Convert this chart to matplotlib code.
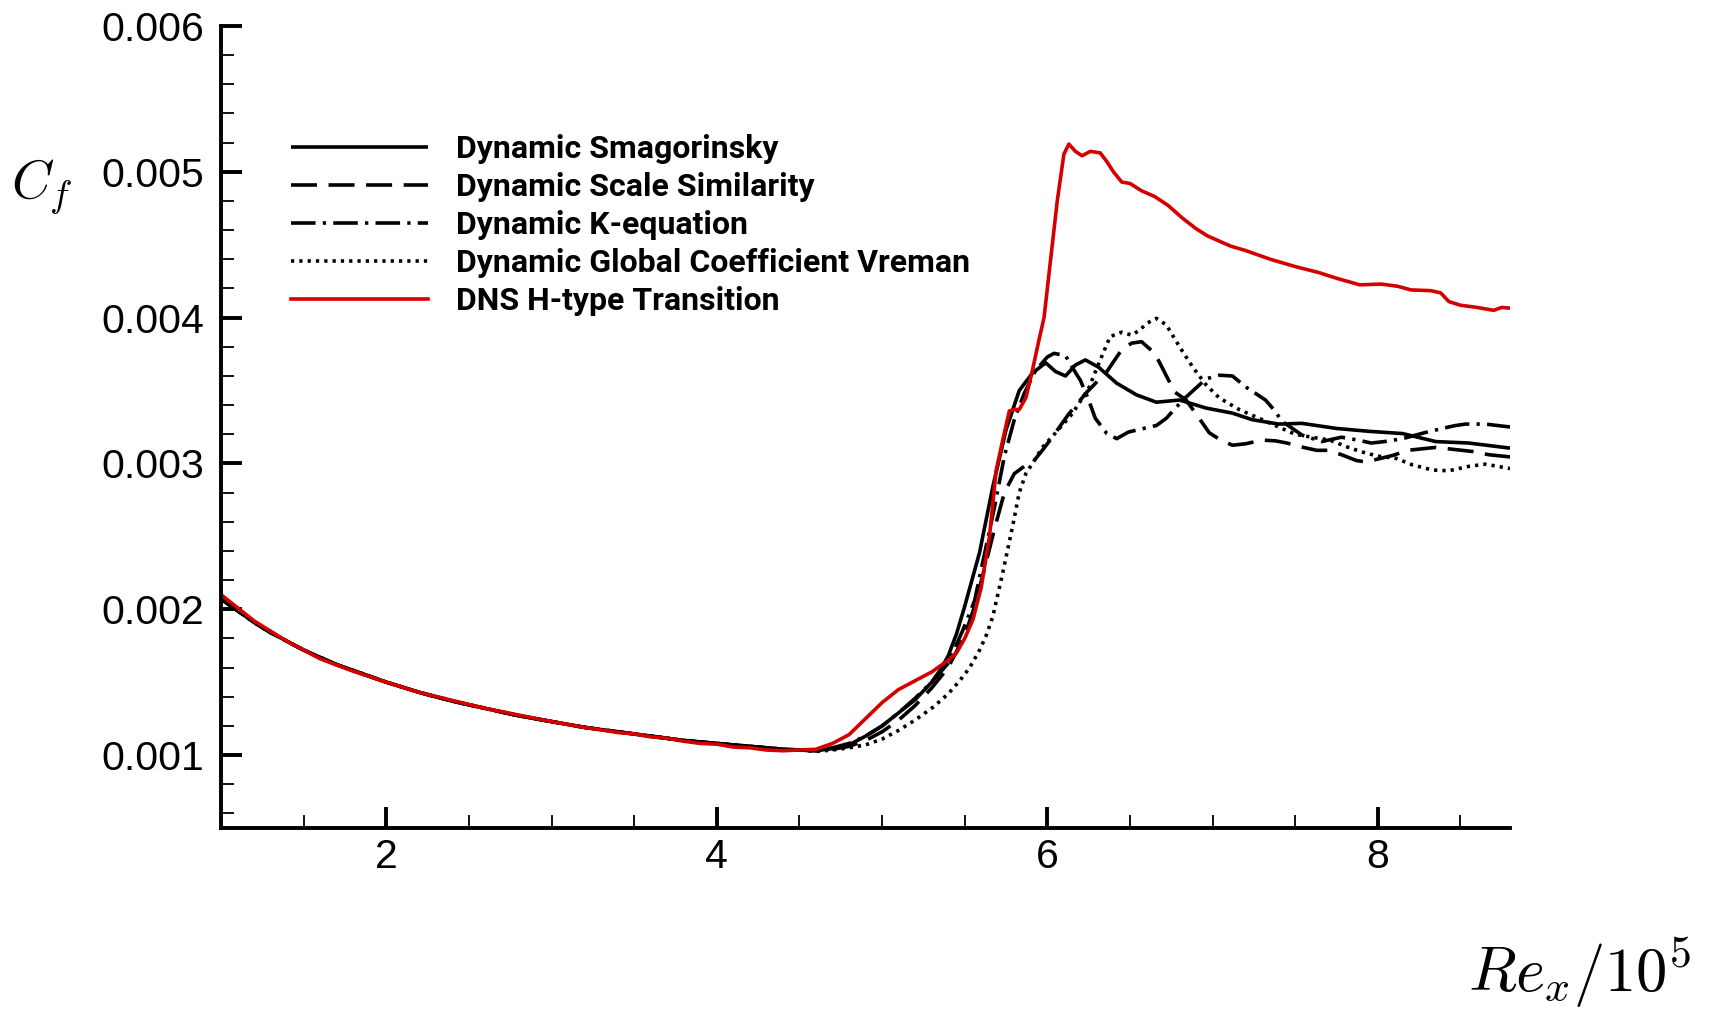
import numpy as np
import matplotlib
matplotlib.use("Agg")
import matplotlib.pyplot as plt
from matplotlib.ticker import MultipleLocator

# laminar part shared by the LES runs (Re_x / 1e5, Cf / 1e-3)
lam_x = [1.0, 1.1, 1.2, 1.3, 1.4, 1.5, 1.6, 1.7, 1.8, 1.9, 2.0, 2.2, 2.4, 2.6,
         2.8, 3.0, 3.2, 3.4, 3.6, 3.8, 4.0, 4.2, 4.4, 4.5]
lam_cf = [2.07, 1.99, 1.91, 1.84, 1.78, 1.72, 1.67, 1.62, 1.58, 1.54, 1.50, 1.43,
          1.37, 1.32, 1.27, 1.23, 1.19, 1.16, 1.13, 1.10, 1.08, 1.06, 1.04, 1.035]

# Dynamic Smagorinsky (after the laminar part)
smag_x = [4.6, 4.7, 4.8, 4.9, 5.0, 5.1, 5.2, 5.3, 5.35, 5.4, 5.45, 5.5, 5.59, 5.67,
          5.75, 5.83, 5.91, 5.99, 6.05, 6.11, 6.17, 6.23, 6.31, 6.42, 6.54, 6.66,
          6.80, 6.96, 7.12, 7.24, 7.40, 7.54, 7.75, 7.95, 8.15, 8.35, 8.55, 8.80]
smag_cf = [1.03, 1.045, 1.07, 1.13, 1.20, 1.29, 1.38, 1.50, 1.58, 1.68, 1.83, 2.02,
           2.39, 2.84, 3.23, 3.50, 3.62, 3.69, 3.63, 3.60, 3.675, 3.71, 3.66, 3.55,
           3.47, 3.42, 3.435, 3.38, 3.345, 3.30, 3.27, 3.275, 3.24, 3.22, 3.205,
           3.15, 3.14, 3.105]

# Dynamic Scale Similarity
ss_x = [4.6, 4.7, 4.8, 4.9, 5.0, 5.1, 5.2, 5.3, 5.4, 5.5, 5.56, 5.62, 5.68, 5.74,
        5.80, 5.86, 5.92, 5.97, 6.03, 6.13, 6.24, 6.36, 6.45, 6.51, 6.57, 6.65,
        6.68, 6.77, 6.84, 6.94, 6.98, 7.05, 7.12, 7.20, 7.30, 7.38, 7.45, 7.55,
        7.63, 7.70, 7.78, 7.87, 7.93, 8.0, 8.09, 8.18, 8.35, 8.43, 8.59, 8.67, 8.80]
ss_cf = [1.03, 1.04, 1.06, 1.10, 1.16, 1.24, 1.34, 1.46, 1.60, 1.82, 2.02, 2.28,
         2.55, 2.80, 2.93, 2.98, 3.02, 3.09, 3.18, 3.34, 3.49, 3.63, 3.78, 3.825,
         3.835, 3.755, 3.69, 3.49, 3.435, 3.275, 3.21, 3.16, 3.125, 3.135, 3.16,
         3.155, 3.14, 3.11, 3.09, 3.09, 3.06, 3.02, 3.01, 3.03, 3.055, 3.09, 3.11,
         3.10, 3.08, 3.06, 3.045]

# Dynamic K-equation
keq_x = [4.6, 4.7, 4.8, 4.9, 5.0, 5.1, 5.2, 5.3, 5.4, 5.49, 5.56, 5.62, 5.68, 5.74,
         5.80, 5.86, 5.93, 6.0, 6.04, 6.11, 6.15, 6.20, 6.25, 6.29, 6.36, 6.42,
         6.49, 6.60, 6.66, 6.72, 6.82, 6.96, 7.04, 7.12, 7.20, 7.32, 7.37, 7.42,
         7.54, 7.66, 7.78, 7.88, 7.96, 8.04, 8.15, 8.28, 8.39, 8.47, 8.53, 8.65, 8.80]
keq_cf = [1.03, 1.05, 1.08, 1.13, 1.20, 1.29, 1.39, 1.50, 1.63, 1.86, 2.06, 2.38,
          2.70, 3.05, 3.30, 3.48, 3.64, 3.73, 3.755, 3.74, 3.66, 3.57, 3.435, 3.31,
          3.205, 3.17, 3.215, 3.245, 3.26, 3.31, 3.435, 3.58, 3.605, 3.60, 3.525,
          3.435, 3.37, 3.29, 3.195, 3.15, 3.18, 3.16, 3.14, 3.15, 3.17, 3.21, 3.24,
          3.26, 3.27, 3.27, 3.25]

# Dynamic Global Coefficient Vreman
vrem_x = [4.6, 4.7, 4.8, 4.9, 5.0, 5.1, 5.2, 5.31, 5.4, 5.47, 5.53, 5.59, 5.63,
          5.67, 5.73, 5.79, 5.83, 5.87, 5.91, 5.97, 6.05, 6.15, 6.25, 6.32, 6.38,
          6.45, 6.51, 6.56, 6.60, 6.66, 6.72, 6.80, 6.88, 6.96, 7.04, 7.16, 7.28,
          7.38, 7.5, 7.6, 7.71, 7.81, 7.90, 8.0, 8.11, 8.21, 8.33, 8.43, 8.55, 8.65,
          8.80]
vrem_cf = [1.025, 1.035, 1.05, 1.07, 1.11, 1.17, 1.24, 1.33, 1.42, 1.51, 1.60, 1.72,
           1.82, 1.95, 2.25, 2.57, 2.80, 2.93, 3.00, 3.11, 3.21, 3.34, 3.515, 3.71,
           3.87, 3.90, 3.88, 3.915, 3.96, 3.995, 3.95, 3.80, 3.66, 3.54, 3.45, 3.37,
           3.31, 3.26, 3.20, 3.18, 3.16, 3.115, 3.08, 3.05, 3.035, 2.99, 2.955, 2.95,
           2.98, 2.995, 2.965]

# DNS H-type transition (whole range)
dns_x = [1.0, 1.2, 1.4, 1.6, 1.8, 2.0, 2.2, 2.4, 2.6, 2.8, 3.0, 3.2, 3.4, 3.5, 3.6,
         3.7, 3.8, 3.9, 4.0, 4.1, 4.2, 4.3, 4.4, 4.5, 4.6, 4.7, 4.8, 4.9, 5.0, 5.1,
         5.2, 5.3, 5.4, 5.45, 5.5, 5.55, 5.6, 5.65, 5.69, 5.73, 5.77, 5.80, 5.83,
         5.87, 5.91, 5.95, 5.98, 6.02, 6.06, 6.10, 6.13, 6.17, 6.21, 6.26, 6.32,
         6.36, 6.40, 6.45, 6.50, 6.57, 6.65, 6.73, 6.82, 6.90, 6.97, 7.05, 7.11,
         7.2, 7.35, 7.5, 7.64, 7.75, 7.89, 8.02, 8.12, 8.20, 8.32, 8.38, 8.43, 8.50,
         8.60, 8.70, 8.75, 8.80]
dns_cf = [2.10, 1.92, 1.78, 1.66, 1.575, 1.50, 1.43, 1.375, 1.32, 1.275, 1.23, 1.19,
          1.155, 1.145, 1.125, 1.115, 1.095, 1.08, 1.075, 1.055, 1.05, 1.035, 1.03,
          1.035, 1.04, 1.08, 1.14, 1.25, 1.36, 1.45, 1.51, 1.57, 1.65, 1.70, 1.80,
          1.93, 2.15, 2.50, 2.95, 3.16, 3.36, 3.37, 3.37, 3.45, 3.64, 3.85, 4.00,
          4.40, 4.80, 5.12, 5.19, 5.14, 5.11, 5.14, 5.13, 5.07, 5.00, 4.93, 4.92,
          4.87, 4.83, 4.77, 4.68, 4.61, 4.56, 4.52, 4.49, 4.46, 4.40, 4.35, 4.31,
          4.27, 4.225, 4.23, 4.215, 4.19, 4.185, 4.17, 4.11, 4.085, 4.07, 4.05, 4.07,
          4.065]

labels = ["Dynamic Smagorinsky", "Dynamic Scale Similarity", "Dynamic K-equation",
          "Dynamic Global Coefficient Vreman", "DNS H-type Transition"]

plt.rcParams['mathtext.fontset'] = 'cm'
plt.rcParams['font.family'] = ['Liberation Sans', 'DejaVu Sans']

fig = plt.figure(figsize=(17.15, 10.11), dpi=100)
ax = fig.add_axes([0.1289, 0.181, 0.8805 - 0.1289, 0.9743 - 0.181])

lw = 2.6
les = [(smag_x, smag_cf, (0, ())),
       (ss_x, ss_cf, (0, (7.2, 3.2))),
       (keq_x, keq_cf, (0, (6.8, 2.0, 0.9, 2.0))),
       (vrem_x, vrem_cf, (0, (0.9, 1.4)))]
for (x, cf, ls), lab in zip(les, labels[:4]):
    xx = np.concatenate([lam_x, x])
    yy = np.concatenate([lam_cf, cf]) * 1e-3
    ax.plot(xx, yy, color='black', lw=lw, linestyle=ls, label=lab,
            dash_capstyle='butt')
ax.plot(dns_x, np.array(dns_cf) * 1e-3, color='#d40000', lw=lw, label=labels[4])

ax.set_xlim(1.0, 8.8)
ax.set_ylim(0.0005, 0.006)
ax.xaxis.set_major_locator(MultipleLocator(2))
ax.xaxis.set_minor_locator(MultipleLocator(0.5))
ax.yaxis.set_major_locator(MultipleLocator(0.001))
ax.yaxis.set_minor_locator(MultipleLocator(0.0002))
ax.yaxis.set_major_formatter(plt.FormatStrFormatter('%.3f'))

for s in ['top', 'right']:
    ax.spines[s].set_visible(False)
for s in ['left', 'bottom']:
    ax.spines[s].set_linewidth(2.8)
ax.tick_params(which='major', direction='in', length=15, width=2.8,
               labelsize=29.5, pad=12)
ax.tick_params(which='minor', direction='in', length=9.5, width=1.3)
ax.tick_params(axis='x', which='major', pad=7)

fig.text(42 / 1715, 1 - 186 / 1011, r'$C_f$', fontsize=39, ha='center', va='center')
fig.text(1580 / 1715, 1 - 973 / 1011, r'$Re_x/10^5$', fontsize=45,
         ha='center', va='center')

ax.legend(loc='upper left', bbox_to_anchor=(291 / 1715, 1 - 134 / 1011),
          bbox_transform=fig.transFigure, frameon=False, handlelength=4.3,
          handletextpad=0.85, labelspacing=0.25, borderaxespad=0, borderpad=0,
          prop={'family': ['Roboto', 'Liberation Sans'],
                'weight': 'bold', 'size': 23})

fig.savefig("out.png", dpi=100)
